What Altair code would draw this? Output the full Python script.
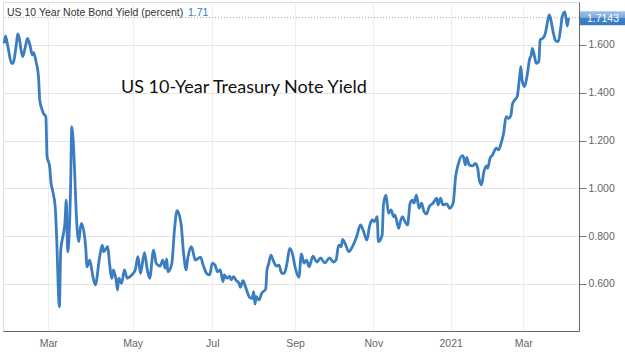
import altair as alt
import pandas as pd

# ---- data ----
dates = [
    "2020-01-25", "2020-01-26", "2020-01-28", "2020-01-31", "2020-02-01", "2020-02-04",
    "2020-02-05", "2020-02-06", "2020-02-09", "2020-02-11", "2020-02-13", "2020-02-15",
    "2020-02-17", "2020-02-18", "2020-02-20", "2020-02-22", "2020-02-23", "2020-02-25",
    "2020-02-26", "2020-02-28", "2020-02-29", "2020-03-02", "2020-03-03", "2020-03-04",
    "2020-03-06", "2020-03-07", "2020-03-09", "2020-03-10", "2020-03-12", "2020-03-13",
    "2020-03-14", "2020-03-15", "2020-03-17", "2020-03-18", "2020-03-20", "2020-03-21",
    "2020-03-23", "2020-03-24", "2020-03-25", "2020-03-28", "2020-03-29", "2020-03-31",
    "2020-04-02", "2020-04-04", "2020-04-07", "2020-04-09", "2020-04-10", "2020-04-13",
    "2020-04-14", "2020-04-16", "2020-04-17", "2020-04-19", "2020-04-20", "2020-04-21",
    "2020-04-23", "2020-04-25", "2020-04-27", "2020-04-29", "2020-05-01", "2020-05-03",
    "2020-05-05", "2020-05-07", "2020-05-10", "2020-05-12", "2020-05-14", "2020-05-17",
    "2020-05-19", "2020-05-22", "2020-05-24", "2020-05-26", "2020-05-27", "2020-05-28",
    "2020-05-31", "2020-06-02", "2020-06-04", "2020-06-07", "2020-06-09", "2020-06-11",
    "2020-06-12", "2020-06-15", "2020-06-18", "2020-06-22", "2020-06-24", "2020-06-27",
    "2020-06-29", "2020-07-01", "2020-07-03", "2020-07-05", "2020-07-07", "2020-07-09",
    "2020-07-10", "2020-07-12", "2020-07-14", "2020-07-15", "2020-07-17", "2020-07-19",
    "2020-07-21", "2020-07-22", "2020-07-24", "2020-07-26", "2020-07-29", "2020-07-31",
    "2020-08-01", "2020-08-02", "2020-08-03", "2020-08-05", "2020-08-07", "2020-08-10",
    "2020-08-11", "2020-08-12", "2020-08-14", "2020-08-15", "2020-08-18", "2020-08-20",
    "2020-08-22", "2020-08-24", "2020-08-26", "2020-08-28", "2020-08-30", "2020-09-01",
    "2020-09-04", "2020-09-06", "2020-09-08", "2020-09-10", "2020-09-12", "2020-09-15",
    "2020-09-18", "2020-09-21", "2020-09-24", "2020-09-28", "2020-10-01", "2020-10-03",
    "2020-10-05", "2020-10-07", "2020-10-08", "2020-10-10", "2020-10-13", "2020-10-15",
    "2020-10-19", "2020-10-22", "2020-10-24", "2020-10-27", "2020-10-29", "2020-10-31",
    "2020-11-02", "2020-11-04", "2020-11-05", "2020-11-08", "2020-11-09", "2020-11-11",
    "2020-11-13", "2020-11-15", "2020-11-17", "2020-11-18", "2020-11-21", "2020-11-22",
    "2020-11-24", "2020-11-26", "2020-11-28", "2020-11-30", "2020-12-02", "2020-12-03",
    "2020-12-05", "2020-12-07", "2020-12-09", "2020-12-11", "2020-12-13", "2020-12-15",
    "2020-12-18", "2020-12-21", "2020-12-22", "2020-12-24", "2020-12-26", "2020-12-29",
    "2020-12-31", "2021-01-03", "2021-01-05", "2021-01-07", "2021-01-10", "2021-01-11",
    "2021-01-13", "2021-01-14", "2021-01-16", "2021-01-19", "2021-01-21", "2021-01-23",
    "2021-01-24", "2021-01-26", "2021-01-28", "2021-01-30", "2021-01-31", "2021-02-02",
    "2021-02-04", "2021-02-07", "2021-02-09", "2021-02-11", "2021-02-13", "2021-02-15",
    "2021-02-17", "2021-02-19", "2021-02-20", "2021-02-22", "2021-02-24", "2021-02-26",
    "2021-02-27", "2021-02-28", "2021-03-02", "2021-03-04", "2021-03-06", "2021-03-07",
    "2021-03-08", "2021-03-10", "2021-03-11", "2021-03-13", "2021-03-14", "2021-03-16",
    "2021-03-17", "2021-03-18", "2021-03-20", "2021-03-21", "2021-03-22", "2021-03-24",
    "2021-03-26", "2021-03-28", "2021-03-30", "2021-03-31", "2021-04-02", "2021-04-03",
    "2021-04-04", "2021-04-05",
]

yields = [
    1.607, 1.638, 1.593, 1.523, 1.523, 1.607,
    1.646, 1.635, 1.551, 1.586, 1.628, 1.600,
    1.558, 1.568, 1.530, 1.467, 1.370, 1.328,
    1.314, 1.300, 1.133, 1.091, 1.021, 0.993,
    0.923, 0.798, 0.505, 0.742, 0.812, 0.854,
    0.951, 0.735, 0.979, 1.258, 1.077, 0.923,
    0.777, 0.826, 0.854, 0.756, 0.672, 0.700,
    0.638, 0.596, 0.709, 0.763, 0.735, 0.756,
    0.700, 0.624, 0.659, 0.617, 0.575, 0.624,
    0.603, 0.659, 0.624, 0.631, 0.642, 0.659,
    0.714, 0.645, 0.731, 0.666, 0.624, 0.742,
    0.687, 0.675, 0.700, 0.666, 0.705, 0.651,
    0.687, 0.826, 0.907, 0.854, 0.728, 0.659,
    0.700, 0.756, 0.700, 0.712, 0.679, 0.642,
    0.638, 0.687, 0.679, 0.651, 0.659, 0.610,
    0.638, 0.624, 0.633, 0.617, 0.631, 0.614,
    0.603, 0.586, 0.614, 0.586, 0.544, 0.540,
    0.568, 0.516, 0.547, 0.533, 0.561, 0.578,
    0.659, 0.679, 0.721, 0.708, 0.675, 0.679,
    0.645, 0.645, 0.687, 0.749, 0.728, 0.672,
    0.628, 0.726, 0.687, 0.700, 0.672, 0.717,
    0.692, 0.709, 0.688, 0.709, 0.692, 0.700,
    0.763, 0.756, 0.787, 0.770, 0.735, 0.749,
    0.798, 0.847, 0.826, 0.784, 0.840, 0.868,
    0.861, 0.882, 0.777, 0.805, 0.931, 0.972,
    0.896, 0.910, 0.882, 0.889, 0.833, 0.854,
    0.882, 0.861, 0.847, 0.938, 0.951, 0.938,
    0.972, 0.917, 0.938, 0.903, 0.893, 0.923,
    0.938, 0.959, 0.931, 0.959, 0.931, 0.935,
    0.917, 0.938, 1.049, 1.098, 1.136, 1.136,
    1.098, 1.130, 1.098, 1.094, 1.105, 1.084,
    1.042, 1.014, 1.070, 1.094, 1.084, 1.126,
    1.140, 1.168, 1.161, 1.189, 1.231, 1.300,
    1.293, 1.307, 1.349, 1.370, 1.384, 1.467,
    1.509, 1.454, 1.426, 1.474, 1.544, 1.554,
    1.586, 1.544, 1.523, 1.530, 1.621, 1.628,
    1.635, 1.649, 1.705, 1.726, 1.712, 1.656,
    1.618, 1.614, 1.677, 1.718, 1.739, 1.712,
    1.679, 1.7143,
]

# x-axis anchor dates (the reference axis is spaced by trading days,
# so calendar months are not evenly wide)
axis_start = "2020-01-24"
tick_dates = ["2020-03-01", "2020-05-01", "2020-07-01", "2020-09-01",
              "2020-11-01", "2021-01-01", "2021-03-01"]
axis_end = "2021-04-13"

y_ticks = [0.6, 0.8, 1.0, 1.2, 1.4, 1.6]
last_value = 1.7143
last_label = "1.7143"
header_label = "US 10 Year Note Bond Yield (percent)"
header_value = "1.71"
annotation = "US 10-Year Treasury Note Yield"


def to_ms(d):
    return int(pd.Timestamp(d, tz="UTC").value // 10**6)


# ---- chart ----
df = pd.DataFrame({"t": [to_ms(d) for d in dates], "yield": yields})

W, H = 576, 329
BLUE = "#3a7dc0"
FONT = "Liberation Sans"

x_domain = [to_ms(axis_start)] + [to_ms(d) for d in tick_dates] + [to_ms(axis_end)]
x_range = [0, 45.3, 129.7, 209.3, 292.0, 370.3, 447.7, 520.3, W]

x_scale = alt.Scale(type="linear", domain=x_domain, range=x_range,
                    nice=False, zero=False)
y_scale = alt.Scale(domain=[0.4033, 1.7799], nice=False, zero=False)

x_axis = alt.Axis(
    title=None,
    values=[to_ms(d) for d in tick_dates],
    labelExpr="utcFormat(datum.value, '%m') == '01' ? utcFormat(datum.value, '%Y') : utcFormat(datum.value, '%b')",
    grid=True, gridColor="#eeeeee", ticks=False, domainColor="#666666",
    labelColor="#666666", labelFont=FONT, labelFontSize=10.5, labelPadding=7,
)
y_axis = alt.Axis(
    title=None, orient="right", values=y_ticks, format=".3f",
    grid=True, gridColor="#e4e4e4", tickSize=7, tickColor="#777777",
    domainColor="#666666", labelColor="#666666", labelFont=FONT,
    labelFontSize=10.5, labelPadding=2,
)

line = alt.Chart(df).mark_line(
    color=BLUE, strokeWidth=2.8, interpolate="monotone"
).encode(
    x=alt.X("t:Q", scale=x_scale, axis=x_axis),
    y=alt.Y("yield:Q", scale=y_scale, axis=y_axis),
)

one = pd.DataFrame({"v": [last_value]})

dotted = alt.Chart(one).mark_rule(
    color="#9a9ad0", strokeDash=[1, 2], strokeWidth=1
).encode(y=alt.Y("v:Q"))

box = alt.Chart(one).mark_rect(
    yOffset=-6.5, y2Offset=7.5, clip=False,
    fill=alt.LinearGradient(
        gradient="linear", x1=0, y1=0, x2=0, y2=1,
        stops=[
            alt.GradientStop(offset=0, color="#9cc3ea"),
            alt.GradientStop(offset=0.48, color="#78a9dc"),
            alt.GradientStop(offset=0.5, color="#3f80c4"),
            alt.GradientStop(offset=1, color="#3a7bbf"),
        ],
    ),
).encode(
    x=alt.value(577), x2=alt.value(622),
    y=alt.Y("v:Q"), y2=alt.Y2("v:Q"),
)

box_text = alt.Chart(one).mark_text(
    color="white", font=FONT, fontSize=10.5, align="center",
    baseline="middle", dy=1,
).encode(x=alt.value(600), y=alt.Y("v:Q"), text=alt.value(last_label))

hdr = alt.Chart(one).mark_text(
    color="#333333", font=FONT, fontSize=10.5, align="left", baseline="alphabetic"
).encode(x=alt.value(4), y=alt.value(13.5), text=alt.value(header_label))

hdr_val = alt.Chart(one).mark_text(
    color=BLUE, font=FONT, fontSize=10.5, align="left", baseline="alphabetic"
).encode(x=alt.value(185), y=alt.value(13.5), text=alt.value(header_value))

note = alt.Chart(one).mark_text(
    color="#111111", font="Lato", fontSize=18, align="left", baseline="alphabetic"
).encode(x=alt.value(118), y=alt.value(91), text=alt.value(annotation))

chart = alt.layer(dotted, line, box, box_text, hdr, hdr_val, note).properties(
    width=W, height=H,
    autosize=alt.AutoSizeParams(type="none"),
    padding={"left": 3, "top": 2, "right": 46, "bottom": 21},
    background="white",
).configure_view(stroke="#dddddd")

chart.save("out.html", embed_options={"renderer": "svg", "actions": False})
